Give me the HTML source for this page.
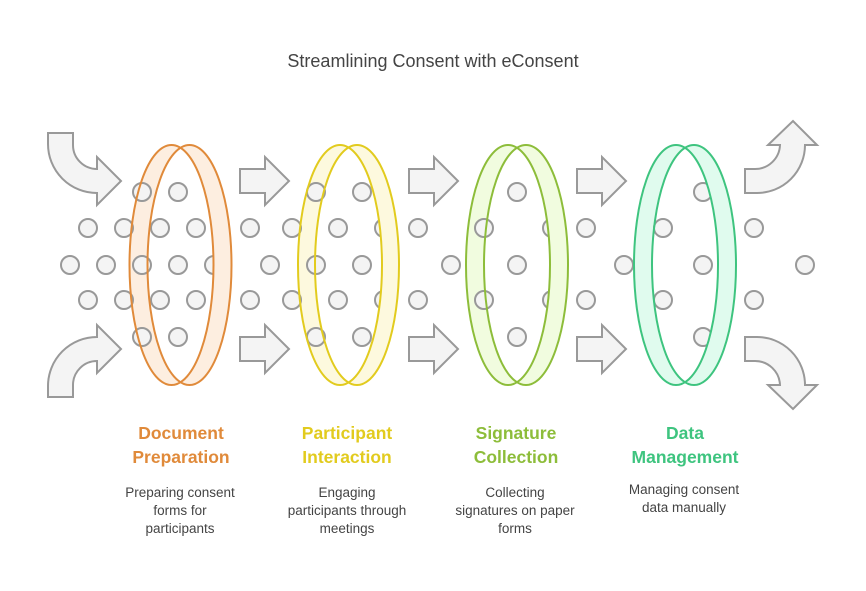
<!DOCTYPE html>
<html><head><meta charset="utf-8"><style>
html,body{margin:0;padding:0;background:#fff;}
svg{display:block;font-family:"Liberation Sans",Arial,sans-serif;}
.d{fill:#f4f4f4;stroke:#999;stroke-width:2}
.a{fill:#f4f4f4;stroke:#999;stroke-width:2;stroke-linejoin:miter}
.t{font-size:17.5px;font-weight:bold;text-anchor:middle}
.s{font-size:13.5px;fill:#444;text-anchor:middle}
</style></head><body>
<svg width="866" height="591" viewBox="0 0 866 591" xmlns="http://www.w3.org/2000/svg">
<defs>
<mask id="m1"><rect width="866" height="591" fill="#000"/><ellipse cx="189.5" cy="265" rx="42" ry="120" fill="#fff"/><ellipse cx="171.5" cy="265" rx="42" ry="120" fill="#000"/></mask>
<mask id="m2"><rect width="866" height="591" fill="#000"/><ellipse cx="357" cy="265" rx="42" ry="120" fill="#fff"/><ellipse cx="340" cy="265" rx="42" ry="120" fill="#000"/></mask>
<mask id="m3"><rect width="866" height="591" fill="#000"/><ellipse cx="526" cy="265" rx="42" ry="120" fill="#fff"/><ellipse cx="508" cy="265" rx="42" ry="120" fill="#000"/></mask>
<mask id="m4"><rect width="866" height="591" fill="#000"/><ellipse cx="694" cy="265" rx="42" ry="120" fill="#fff"/><ellipse cx="676" cy="265" rx="42" ry="120" fill="#000"/></mask>
<clipPath id="c1"><ellipse cx="171.5" cy="265" rx="42" ry="120"/></clipPath>
<clipPath id="c2"><ellipse cx="340" cy="265" rx="42" ry="120"/></clipPath>
<clipPath id="c3"><ellipse cx="508" cy="265" rx="42" ry="120"/></clipPath>
<clipPath id="c4"><ellipse cx="676" cy="265" rx="42" ry="120"/></clipPath>
</defs>
<text x="433" y="67" font-size="18" fill="#444" text-anchor="middle">Streamlining Consent with eConsent</text>

<!-- back bands -->
<ellipse cx="171.5" cy="265" rx="42" ry="120" fill="#fdeee0"/>
<ellipse cx="340" cy="265" rx="42" ry="120" fill="#fdf9de"/>
<ellipse cx="508" cy="265" rx="42" ry="120" fill="#f1fcdf"/>
<ellipse cx="676" cy="265" rx="42" ry="120" fill="#e0fbee"/>
<ellipse cx="189.5" cy="265" rx="42" ry="120" fill="#fff" clip-path="url(#c1)"/>
<ellipse cx="357" cy="265" rx="42" ry="120" fill="#fff" clip-path="url(#c2)"/>
<ellipse cx="526" cy="265" rx="42" ry="120" fill="#fff" clip-path="url(#c3)"/>
<ellipse cx="694" cy="265" rx="42" ry="120" fill="#fff" clip-path="url(#c4)"/>

<!-- arrows -->
<path class="a" d="M48,133 H73 V145 A24,24 0 0 0 97,169 V157 L121,181 L97,205 V193 A49,49 0 0 1 48,144 Z"/>
<path class="a" d="M48,397 H73 V385 A24,24 0 0 1 97,361 V373 L121,349 L97,325 V337 A49,49 0 0 0 48,386 Z"/>
<path class="a" d="M745,169 H755 A25,25 0 0 0 780,145 H768 L793,121 L817,145 H805 A48,48 0 0 1 757,193 H745 Z"/>
<path class="a" d="M745,361 H755 A25,25 0 0 1 780,385 H768 L793,409 L817,385 H805 A48,48 0 0 0 757,337 H745 Z"/>
<g class="a">
<path d="M240,169 H265 V157 L289,181 L265,205 V193 H240 Z"/>
<path d="M240,337 H265 V325 L289,349 L265,373 V361 H240 Z"/>
<path d="M409,169 H434 V157 L458,181 L434,205 V193 H409 Z"/>
<path d="M409,337 H434 V325 L458,349 L434,373 V361 H409 Z"/>
<path d="M577,169 H602 V157 L626,181 L602,205 V193 H577 Z"/>
<path d="M577,337 H602 V325 L626,349 L602,373 V361 H577 Z"/>
</g>

<!-- dots -->
<g class="d">
<circle cx="142" cy="192" r="9"/><circle cx="178" cy="192" r="9"/>
<circle cx="88" cy="228" r="9"/><circle cx="124" cy="228" r="9"/><circle cx="160" cy="228" r="9"/><circle cx="196" cy="228" r="9"/><circle cx="250" cy="228" r="9"/><circle cx="292" cy="228" r="9"/>
<circle cx="70" cy="265" r="9"/><circle cx="106" cy="265" r="9"/><circle cx="142" cy="265" r="9"/><circle cx="178" cy="265" r="9"/><circle cx="214" cy="265" r="9"/><circle cx="270" cy="265" r="9"/>
<circle cx="88" cy="300" r="9"/><circle cx="124" cy="300" r="9"/><circle cx="160" cy="300" r="9"/><circle cx="196" cy="300" r="9"/><circle cx="250" cy="300" r="9"/><circle cx="292" cy="300" r="9"/>
<circle cx="142" cy="337" r="9"/><circle cx="178" cy="337" r="9"/>

<circle cx="316" cy="192" r="9"/><circle cx="362" cy="192" r="9"/>
<circle cx="338" cy="228" r="9"/><circle cx="384" cy="228" r="9"/><circle cx="418" cy="228" r="9"/>
<circle cx="316" cy="265" r="9"/><circle cx="362" cy="265" r="9"/>
<circle cx="338" cy="300" r="9"/><circle cx="384" cy="300" r="9"/><circle cx="418" cy="300" r="9"/>
<circle cx="316" cy="337" r="9"/><circle cx="362" cy="337" r="9"/>

<circle cx="517" cy="192" r="9"/>
<circle cx="484" cy="228" r="9"/><circle cx="552" cy="228" r="9"/><circle cx="586" cy="228" r="9"/>
<circle cx="451" cy="265" r="9"/><circle cx="517" cy="265" r="9"/>
<circle cx="484" cy="300" r="9"/><circle cx="552" cy="300" r="9"/><circle cx="586" cy="300" r="9"/>
<circle cx="517" cy="337" r="9"/>

<circle cx="703" cy="192" r="9"/>
<circle cx="663" cy="228" r="9"/><circle cx="754" cy="228" r="9"/>
<circle cx="624" cy="265" r="9"/><circle cx="703" cy="265" r="9"/><circle cx="805" cy="265" r="9"/>
<circle cx="663" cy="300" r="9"/><circle cx="754" cy="300" r="9"/>
<circle cx="703" cy="337" r="9"/>
</g>

<!-- front bands -->
<rect width="866" height="591" fill="#fdeee0" mask="url(#m1)"/>
<rect width="866" height="591" fill="#fdf9de" mask="url(#m2)"/>
<rect width="866" height="591" fill="#f1fcdf" mask="url(#m3)"/>
<rect width="866" height="591" fill="#e0fbee" mask="url(#m4)"/>

<g fill="none" stroke-width="2">
<ellipse cx="171.5" cy="265" rx="42" ry="120" stroke="#e08a3a"/><ellipse cx="189.5" cy="265" rx="42" ry="120" stroke="#e08a3a"/>
<ellipse cx="340" cy="265" rx="42" ry="120" stroke="#e2cb1e"/><ellipse cx="357" cy="265" rx="42" ry="120" stroke="#e2cb1e"/>
<ellipse cx="508" cy="265" rx="42" ry="120" stroke="#8dbd3a"/><ellipse cx="526" cy="265" rx="42" ry="120" stroke="#8dbd3a"/>
<ellipse cx="676" cy="265" rx="42" ry="120" stroke="#3ec47f"/><ellipse cx="694" cy="265" rx="42" ry="120" stroke="#3ec47f"/>
</g>

<text class="t" fill="#e08a3a"><tspan x="181" y="439">Document</tspan><tspan x="181" y="463">Preparation</tspan></text>
<text class="t" fill="#e2cb1e"><tspan x="347" y="439">Participant</tspan><tspan x="347" y="463">Interaction</tspan></text>
<text class="t" fill="#8dbd3a"><tspan x="516" y="439">Signature</tspan><tspan x="516" y="463">Collection</tspan></text>
<text class="t" fill="#3ec47f"><tspan x="685" y="439">Data</tspan><tspan x="685" y="463">Management</tspan></text>

<text class="s"><tspan x="180" y="497">Preparing consent</tspan><tspan x="180" y="515">forms for</tspan><tspan x="180" y="533">participants</tspan></text>
<text class="s"><tspan x="347" y="497">Engaging</tspan><tspan x="347" y="515">participants through</tspan><tspan x="347" y="533">meetings</tspan></text>
<text class="s"><tspan x="515" y="497">Collecting</tspan><tspan x="515" y="515">signatures on paper</tspan><tspan x="515" y="533">forms</tspan></text>
<text class="s"><tspan x="684" y="494">Managing consent</tspan><tspan x="684" y="512">data manually</tspan></text>
</svg>
</body></html>
